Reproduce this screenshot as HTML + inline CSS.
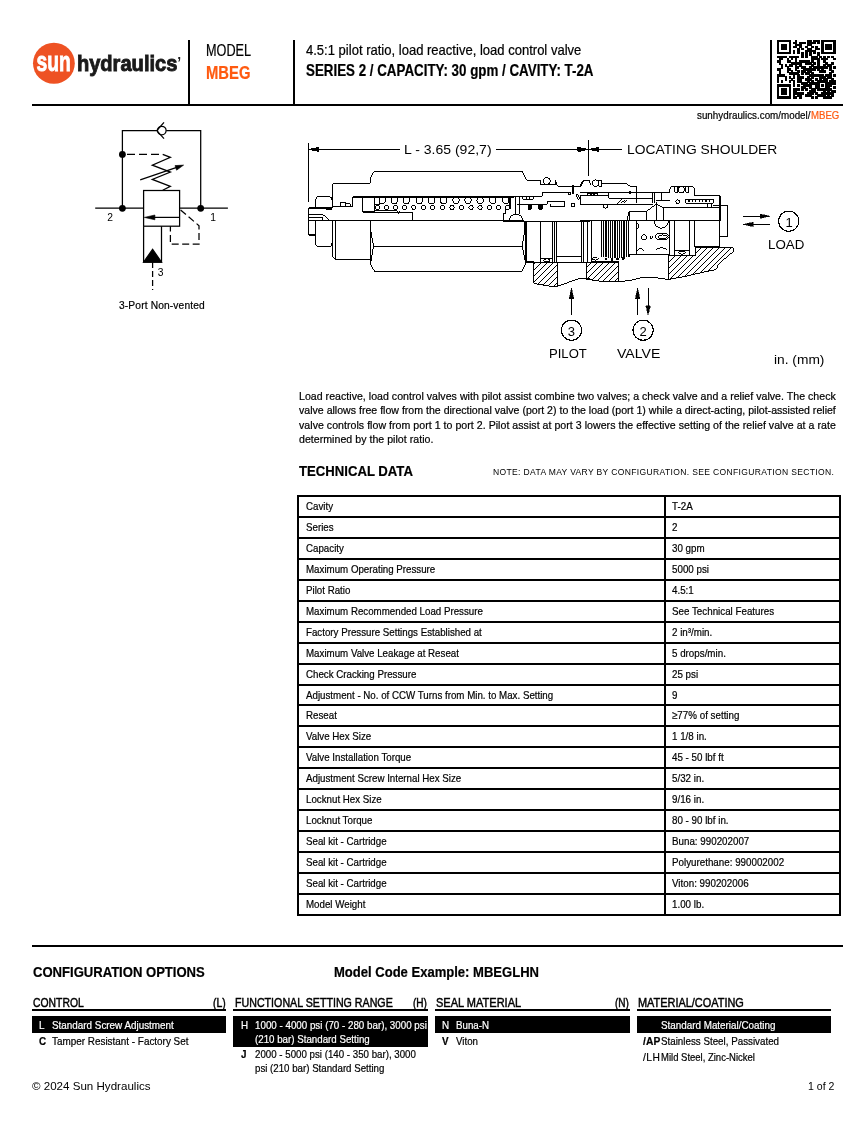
<!DOCTYPE html>
<html lang="en"><head><meta charset="utf-8"><title>MBEG - Sun Hydraulics</title>
<style>
html,body{margin:0;padding:0;background:#fff}
body{width:867px;height:1122px;position:relative;overflow:hidden;font-family:"Liberation Sans",sans-serif;color:#000}
.t{-webkit-text-stroke:0.22px currentColor;position:absolute;white-space:nowrap;line-height:1;transform-origin:0 0;display:block}
.n{-webkit-text-stroke:0}
.h{-webkit-text-stroke:0.45px currentColor}
.b{position:absolute}
svg{position:absolute;overflow:visible}
#pg{position:absolute;left:0;top:0;width:867px;height:1122px;will-change:transform}
</style></head><body><div id="pg">
<svg style="left:0;top:0" width="200" height="100" viewBox="0 0 200 100">
<ellipse cx="53.9" cy="63.3" rx="20.9" ry="20.5" fill="#ee5223"/>
<text x="36.6" y="70.9" font-family="Liberation Sans, sans-serif" font-weight="700" font-size="27.5" fill="#fff" stroke="#fff" stroke-width="0.9" textLength="34.3" lengthAdjust="spacingAndGlyphs">sun</text>
<text x="76.9" y="71" font-family="Liberation Sans, sans-serif" font-weight="700" font-size="22" fill="#1a1a1a" stroke="#1a1a1a" stroke-width="0.9" textLength="100.5" lengthAdjust="spacingAndGlyphs">hydraulics</text>
<text x="177.2" y="67" font-family="Liberation Sans, sans-serif" font-weight="700" font-size="14" fill="#1a1a1a">’</text>
</svg>

<div class="b" style="left:188.00px;top:40.00px;width:2.00px;height:65.00px;background:#000"></div>
<div class="b" style="left:293.00px;top:40.00px;width:2.00px;height:65.00px;background:#000"></div>
<div class="b" style="left:770.00px;top:40.00px;width:2.00px;height:65.00px;background:#000"></div>
<div class="b" style="left:32.00px;top:104.00px;width:811.00px;height:2.00px;background:#000"></div>
<span class="t" style="left:205.80px;top:42.81px;font-size:16px;transform:scaleX(0.7911);">MODEL</span>
<span class="t" style="left:205.80px;top:63.51px;font-size:18.6px;transform:scaleX(0.7957);font-weight:700;color:#ff5a10;">MBEG</span>
<span class="t" style="left:306.40px;top:43.03px;font-size:14.2px;transform:scaleX(0.9187);">4.5:1 pilot ratio, load reactive, load control valve</span>
<span class="t" style="left:306.40px;top:63.20px;font-size:16.6px;transform:scaleX(0.8043);font-weight:700;">SERIES 2 / CAPACITY: 30 gpm / CAVITY: T-2A</span>
<svg style="left:777.4px;top:40.4px" width="60" height="60" viewBox="0 0 60 60"><path fill="#000" shape-rendering="crispEdges" d="M-0.42 -0.42h14.89v2.85h-14.89zM17.64 -0.42h2.85v2.85h-2.85zM29.68 -0.42h4.85v2.85h-4.85zM35.70 -0.42h6.86v2.85h-6.86zM43.73 -0.42h14.89v2.85h-14.89zM-0.42 1.59h2.85v2.85h-2.85zM11.62 1.59h2.85v2.85h-2.85zM15.64 1.59h4.85v2.85h-4.85zM21.66 1.59h6.86v2.85h-6.86zM29.68 1.59h8.87v2.85h-8.87zM39.72 1.59h2.85v2.85h-2.85zM43.73 1.59h2.85v2.85h-2.85zM55.77 1.59h2.85v2.85h-2.85zM-0.42 3.59h2.85v2.85h-2.85zM3.59 3.59h6.86v2.85h-6.86zM11.62 3.59h2.85v2.85h-2.85zM17.64 3.59h6.86v2.85h-6.86zM29.68 3.59h4.85v2.85h-4.85zM43.73 3.59h2.85v2.85h-2.85zM47.75 3.59h6.86v2.85h-6.86zM55.77 3.59h2.85v2.85h-2.85zM-0.42 5.60h2.85v2.85h-2.85zM3.59 5.60h6.86v2.85h-6.86zM11.62 5.60h2.85v2.85h-2.85zM15.64 5.60h4.85v2.85h-4.85zM21.66 5.60h2.85v2.85h-2.85zM27.68 5.60h2.85v2.85h-2.85zM33.70 5.60h2.85v2.85h-2.85zM37.71 5.60h2.85v2.85h-2.85zM43.73 5.60h2.85v2.85h-2.85zM47.75 5.60h6.86v2.85h-6.86zM55.77 5.60h2.85v2.85h-2.85zM-0.42 7.61h2.85v2.85h-2.85zM3.59 7.61h6.86v2.85h-6.86zM11.62 7.61h2.85v2.85h-2.85zM19.65 7.61h2.85v2.85h-2.85zM23.66 7.61h2.85v2.85h-2.85zM29.68 7.61h4.85v2.85h-4.85zM37.71 7.61h4.85v2.85h-4.85zM43.73 7.61h2.85v2.85h-2.85zM47.75 7.61h6.86v2.85h-6.86zM55.77 7.61h2.85v2.85h-2.85zM-0.42 9.61h2.85v2.85h-2.85zM11.62 9.61h2.85v2.85h-2.85zM15.64 9.61h2.85v2.85h-2.85zM19.65 9.61h2.85v2.85h-2.85zM27.68 9.61h10.87v2.85h-10.87zM43.73 9.61h2.85v2.85h-2.85zM55.77 9.61h2.85v2.85h-2.85zM-0.42 11.62h14.89v2.85h-14.89zM15.64 11.62h2.85v2.85h-2.85zM19.65 11.62h2.85v2.85h-2.85zM23.66 11.62h2.85v2.85h-2.85zM27.68 11.62h2.85v2.85h-2.85zM31.69 11.62h2.85v2.85h-2.85zM35.70 11.62h2.85v2.85h-2.85zM39.72 11.62h2.85v2.85h-2.85zM43.73 11.62h14.89v2.85h-14.89zM23.66 13.63h2.85v2.85h-2.85zM27.68 13.63h2.85v2.85h-2.85zM31.69 13.63h2.85v2.85h-2.85zM39.72 13.63h2.85v2.85h-2.85zM-0.42 15.64h10.87v2.85h-10.87zM11.62 15.64h10.87v2.85h-10.87zM23.66 15.64h2.85v2.85h-2.85zM27.68 15.64h2.85v2.85h-2.85zM33.70 15.64h6.86v2.85h-6.86zM41.72 15.64h2.85v2.85h-2.85zM45.74 15.64h2.85v2.85h-2.85zM49.75 15.64h2.85v2.85h-2.85zM53.77 15.64h2.85v2.85h-2.85zM1.59 17.64h4.85v2.85h-4.85zM9.61 17.64h2.85v2.85h-2.85zM13.63 17.64h2.85v2.85h-2.85zM17.64 17.64h2.85v2.85h-2.85zM33.70 17.64h8.87v2.85h-8.87zM43.73 17.64h6.86v2.85h-6.86zM55.77 17.64h2.85v2.85h-2.85zM-0.42 19.65h4.85v2.85h-4.85zM9.61 19.65h4.85v2.85h-4.85zM17.64 19.65h2.85v2.85h-2.85zM21.66 19.65h10.87v2.85h-10.87zM33.70 19.65h2.85v2.85h-2.85zM39.72 19.65h2.85v2.85h-2.85zM45.74 19.65h2.85v2.85h-2.85zM1.59 21.66h2.85v2.85h-2.85zM13.63 21.66h10.87v2.85h-10.87zM27.68 21.66h6.86v2.85h-6.86zM35.70 21.66h2.85v2.85h-2.85zM39.72 21.66h2.85v2.85h-2.85zM47.75 21.66h2.85v2.85h-2.85zM53.77 21.66h2.85v2.85h-2.85zM3.59 23.66h2.85v2.85h-2.85zM7.61 23.66h2.85v2.85h-2.85zM11.62 23.66h4.85v2.85h-4.85zM17.64 23.66h2.85v2.85h-2.85zM21.66 23.66h2.85v2.85h-2.85zM33.70 23.66h2.85v2.85h-2.85zM39.72 23.66h2.85v2.85h-2.85zM45.74 23.66h2.85v2.85h-2.85zM49.75 23.66h4.85v2.85h-4.85zM3.59 25.67h2.85v2.85h-2.85zM9.61 25.67h2.85v2.85h-2.85zM17.64 25.67h4.85v2.85h-4.85zM23.66 25.67h4.85v2.85h-4.85zM31.69 25.67h2.85v2.85h-2.85zM35.70 25.67h14.89v2.85h-14.89zM51.76 25.67h2.85v2.85h-2.85zM55.77 25.67h2.85v2.85h-2.85zM-0.42 27.68h4.85v2.85h-4.85zM9.61 27.68h4.85v2.85h-4.85zM17.64 27.68h2.85v2.85h-2.85zM25.67 27.68h12.88v2.85h-12.88zM39.72 27.68h2.85v2.85h-2.85zM43.73 27.68h2.85v2.85h-2.85zM51.76 27.68h2.85v2.85h-2.85zM1.59 29.68h2.85v2.85h-2.85zM9.61 29.68h2.85v2.85h-2.85zM13.63 29.68h2.85v2.85h-2.85zM19.65 29.68h2.85v2.85h-2.85zM23.66 29.68h4.85v2.85h-4.85zM29.68 29.68h4.85v2.85h-4.85zM41.72 29.68h6.86v2.85h-6.86zM53.77 29.68h2.85v2.85h-2.85zM1.59 31.69h2.85v2.85h-2.85zM11.62 31.69h10.87v2.85h-10.87zM23.66 31.69h2.85v2.85h-2.85zM27.68 31.69h4.85v2.85h-4.85zM33.70 31.69h2.85v2.85h-2.85zM51.76 31.69h2.85v2.85h-2.85zM-0.42 33.70h8.87v2.85h-8.87zM15.64 33.70h2.85v2.85h-2.85zM19.65 33.70h2.85v2.85h-2.85zM31.69 33.70h14.89v2.85h-14.89zM47.75 33.70h6.86v2.85h-6.86zM55.77 33.70h2.85v2.85h-2.85zM-0.42 35.70h2.85v2.85h-2.85zM7.61 35.70h2.85v2.85h-2.85zM11.62 35.70h2.85v2.85h-2.85zM15.64 35.70h2.85v2.85h-2.85zM19.65 35.70h6.86v2.85h-6.86zM29.68 35.70h2.85v2.85h-2.85zM33.70 35.70h2.85v2.85h-2.85zM41.72 35.70h6.86v2.85h-6.86zM49.75 35.70h4.85v2.85h-4.85zM-0.42 37.71h2.85v2.85h-2.85zM7.61 37.71h2.85v2.85h-2.85zM13.63 37.71h2.85v2.85h-2.85zM19.65 37.71h4.85v2.85h-4.85zM27.68 37.71h6.86v2.85h-6.86zM37.71 37.71h2.85v2.85h-2.85zM41.72 37.71h2.85v2.85h-2.85zM45.74 37.71h4.85v2.85h-4.85zM53.77 37.71h2.85v2.85h-2.85zM-0.42 39.72h2.85v2.85h-2.85zM3.59 39.72h2.85v2.85h-2.85zM11.62 39.72h2.85v2.85h-2.85zM15.64 39.72h2.85v2.85h-2.85zM19.65 39.72h4.85v2.85h-4.85zM29.68 39.72h2.85v2.85h-2.85zM33.70 39.72h2.85v2.85h-2.85zM39.72 39.72h10.87v2.85h-10.87zM51.76 39.72h6.86v2.85h-6.86zM15.64 41.72h2.85v2.85h-2.85zM23.66 41.72h6.86v2.85h-6.86zM31.69 41.72h10.87v2.85h-10.87zM47.75 41.72h10.87v2.85h-10.87zM-0.42 43.73h14.89v2.85h-14.89zM15.64 43.73h2.85v2.85h-2.85zM19.65 43.73h2.85v2.85h-2.85zM25.67 43.73h8.87v2.85h-8.87zM37.71 43.73h4.85v2.85h-4.85zM43.73 43.73h2.85v2.85h-2.85zM47.75 43.73h6.86v2.85h-6.86zM-0.42 45.74h2.85v2.85h-2.85zM11.62 45.74h2.85v2.85h-2.85zM23.66 45.74h4.85v2.85h-4.85zM31.69 45.74h2.85v2.85h-2.85zM37.71 45.74h4.85v2.85h-4.85zM47.75 45.74h4.85v2.85h-4.85zM55.77 45.74h2.85v2.85h-2.85zM-0.42 47.75h2.85v2.85h-2.85zM3.59 47.75h6.86v2.85h-6.86zM11.62 47.75h2.85v2.85h-2.85zM15.64 47.75h6.86v2.85h-6.86zM23.66 47.75h2.85v2.85h-2.85zM27.68 47.75h2.85v2.85h-2.85zM33.70 47.75h4.85v2.85h-4.85zM39.72 47.75h14.89v2.85h-14.89zM-0.42 49.75h2.85v2.85h-2.85zM3.59 49.75h6.86v2.85h-6.86zM11.62 49.75h2.85v2.85h-2.85zM15.64 49.75h4.85v2.85h-4.85zM31.69 49.75h6.86v2.85h-6.86zM45.74 49.75h2.85v2.85h-2.85zM49.75 49.75h2.85v2.85h-2.85zM53.77 49.75h4.85v2.85h-4.85zM-0.42 51.76h2.85v2.85h-2.85zM3.59 51.76h6.86v2.85h-6.86zM11.62 51.76h2.85v2.85h-2.85zM15.64 51.76h10.87v2.85h-10.87zM29.68 51.76h6.86v2.85h-6.86zM37.71 51.76h2.85v2.85h-2.85zM43.73 51.76h12.88v2.85h-12.88zM-0.42 53.77h2.85v2.85h-2.85zM11.62 53.77h2.85v2.85h-2.85zM15.64 53.77h2.85v2.85h-2.85zM19.65 53.77h4.85v2.85h-4.85zM27.68 53.77h6.86v2.85h-6.86zM39.72 53.77h8.87v2.85h-8.87zM49.75 53.77h2.85v2.85h-2.85zM53.77 53.77h2.85v2.85h-2.85zM-0.42 55.77h14.89v2.85h-14.89zM15.64 55.77h4.85v2.85h-4.85zM21.66 55.77h2.85v2.85h-2.85zM33.70 55.77h2.85v2.85h-2.85zM37.71 55.77h2.85v2.85h-2.85zM45.74 55.77h8.87v2.85h-8.87z"/></svg>
<span class="t" style="left:696.70px;top:109.98px;font-size:11.3px;transform:scaleX(0.8690);">sunhydraulics.com/model/</span>
<span class="t" style="left:810.87px;top:109.98px;font-size:11.3px;transform:scaleX(0.8513);color:#ff5a10;">MBEG</span>
<svg style="left:0;top:0" width="300" height="330" viewBox="0 0 300 330" fill="none" stroke="#000" stroke-width="1.25">
<path d="M122.4 208.4V130.6H157.3M166.2 130.6H200.7V208.4"/>
<circle cx="161.8" cy="130.6" r="4.3"/>
<path d="M164 122.3L156.8 130.6L164 138.6"/>
<path d="M95.2 208.2H143.6M179.6 208.2H227.9"/>
<circle cx="122.4" cy="154.4" r="3.4" fill="#000" stroke="none"/>
<circle cx="122.4" cy="208.3" r="3.4" fill="#000" stroke="none"/>
<circle cx="200.7" cy="208.3" r="3.4" fill="#000" stroke="none"/>
<path d="M127 154.4H162.7" stroke-dasharray="8 4"/>
<path d="M162.7 154.4L170.4 157.4L152.3 165.2L170.4 172.1L152.3 179.4L170.4 186.3L162.7 190.3"/>
<path d="M140.2 179.9L176 167.7"/>
<path d="M183.6 165.1L175 165.6L176.6 170.2Z" fill="#000" stroke-width="0.6"/>
<rect x="143.6" y="190.5" width="36" height="35.7"/>
<path d="M179.6 217.4H153"/>
<path d="M144.3 217.4L154.9 215L154.9 219.8Z" fill="#000" stroke-width="0.6"/>
<path d="M143.6 226.2V262H161.5V226.2"/>
<path d="M143.6 262L152.6 249.4L161.5 262Z" fill="#000"/>
<path d="M152.6 262V290" stroke-dasharray="6 3"/>
<path d="M180.6 210L199 225.7V244.2H170.4V226.2" stroke-dasharray="7 3.5"/>
</svg>

<span class="t n" style="left:107.30px;top:213.43px;font-size:10.3px;">2</span>
<span class="t n" style="left:210.30px;top:213.43px;font-size:10.3px;">1</span>
<span class="t n" style="left:157.80px;top:268.43px;font-size:10.3px;">3</span>
<span class="t" style="left:118.50px;top:299.54px;font-size:11px;transform:scaleX(0.9300);letter-spacing:0.143px;">3-Port Non-vented</span>
<svg style="left:0;top:0" width="867" height="380" viewBox="0 0 867 380" fill="none" stroke="#000" stroke-width="1" shape-rendering="crispEdges">
<defs>
</defs>
<!-- A: upper-left -->
<g transform="translate(300 135) scale(0.17301)" stroke-width="5.78">
<path d="M48 45V390"/>
<path d="M50 83H580"/>
<path d="M52 83L108 72V95Z" fill="#000"/>
<path d="M185 420V300Q185 280 205 278H405V258Q410 232 430 210H867"/>
<path d="M90 420V375Q90 355 110 355H165Q185 355 185 375"/>
<path d="M50 420H185M150 428H185" stroke-width="11.5"/>
<path d="M50 420V578"/>
<path d="M50 462H130Q158 465 165 497M50 475H130V497M55 497H130"/>
<path d="M50 497H867"/>
<path d="M305 357H867" stroke-width="11.5"/>
<path d="M185 415H305V357"/>
<path d="M232 390H262V415H232ZM262 398H290V415"/>
<path d="M362 360V445H432V360M432 360H462V400H432"/>
<path d="M362 449H650" stroke-width="9"/><path d="M650 446V497"/>
<path d="M432 437H560L570 458L580 437"/>
<g id="coilsA">
<ellipse cx="475" cy="376" rx="19" ry="22"/><ellipse cx="545" cy="376" rx="19" ry="22"/><ellipse cx="615" cy="376" rx="19" ry="22"/><ellipse cx="690" cy="376" rx="19" ry="22"/><ellipse cx="760" cy="376" rx="19" ry="22"/><ellipse cx="830" cy="376" rx="19" ry="22"/>
<circle cx="448" cy="419" r="12.5"/><circle cx="500" cy="419" r="12.5"/><circle cx="552" cy="419" r="12.5"/><circle cx="604" cy="419" r="12.5"/><circle cx="658" cy="419" r="12.5"/><circle cx="712" cy="419" r="12.5"/><circle cx="765" cy="419" r="12.5"/><circle cx="822" cy="419" r="12.5"/>
</g>
</g>
<!-- B: lower-left -->
<g transform="translate(300 195) scale(0.17301)" stroke-width="5.78">
<path d="M90 152V280Q90 298 108 298H170Q185 298 185 280V152"/>
<path d="M50 232H95" stroke-width="11.5"/>
<path d="M190 152V355L205 372H408M205 152V372"/>
<path d="M408 152V400L430 440H867M408 200L425 297L408 395M425 297H867"/>
</g>
<!-- C: upper-middle -->
<g transform="translate(440 135) scale(0.17301)" stroke-width="5.78">
<path d="M325 83H790M858 30V235"/>
<path d="M850 83L795 72V95Z" fill="#000"/>
<path d="M0 210H475L500 262H580V288H665V262L680 295H765M775 295H815L830 265H867"/>
<circle cx="617" cy="266" r="20"/>
<path d="M770 290V340" stroke-width="12"/>
<path d="M0 357H430" stroke-width="11.5"/>
<ellipse cx="20" cy="376" rx="19" ry="22"/><ellipse cx="92" cy="376" rx="19" ry="22"/><ellipse cx="162" cy="376" rx="19" ry="22"/><ellipse cx="232" cy="376" rx="19" ry="22"/><ellipse cx="305" cy="376" rx="19" ry="22"/><ellipse cx="380" cy="376" rx="19" ry="22"/>
<circle cx="15" cy="419" r="12.5"/><circle cx="70" cy="419" r="12.5"/><circle cx="125" cy="419" r="12.5"/><circle cx="180" cy="419" r="12.5"/><circle cx="232" cy="419" r="12.5"/><circle cx="285" cy="419" r="12.5"/><circle cx="338" cy="419" r="12.5"/><circle cx="390" cy="419" r="12.5"/>
<path d="M400 357V430H380V455H365V497M410 357V430"/>
<path d="M435 357V455M460 357V455"/>
<path d="M400 497A40 40 0 0 1 480 497"/>
<path d="M365 497H485" stroke-width="11.5"/>
<path d="M430 355H590V335H760"/>
<path d="M478 358H540V372H478ZM498 358V372M518 358V372"/>
<path d="M445 400H620V385H720V415H640V400"/>
<path d="M510 405H528V430H510ZM570 405H590V430H570Z" fill="#000"/>
<path d="M745 335H757V345H745ZM760 395H780V412H760ZM785 340L800 375M795 340L808 370"/>
<path d="M810 350H867M810 350V400H867"/>
<path d="M55 497H365"/>

</g>
<!-- D: lower-middle -->
<g transform="translate(440 195) scale(0.17301)" stroke-width="5.78">
<path d="M0 297H475M0 440H475M475 297L490 200V152M475 297L495 395L475 440"/>
<path d="M499 152V392" stroke-width="11.5"/>
<path d="M580 152V390M648 152V390M660 152V390M672 152V390M820 152V390M832 152V390"/>
<path d="M485 152H867"/>
<path d="M497 390H545" stroke-width="11.5"/>
<path d="M545 390H867M580 365H648M672 355H820"/>
<ellipse cx="618" cy="378" rx="18" ry="9"/>
<clipPath id="hc0"><path d="M542 392H680V528Q640 532 542 510Z"/></clipPath><path d="M542 392H680V528Q640 532 542 510Z"/><path clip-path="url(#hc0)" d="M406 534L550 390M441 534L585 390M476 534L620 390M511 534L655 390M546 534L690 390M581 534L725 390M616 534L760 390M651 534L795 390"/>
<path d="M680 526Q730 512 770 494T867 480"/>
</g>
<!-- E: upper-right -->
<g transform="translate(580 135) scale(0.17301)" stroke-width="5.78">
<path d="M48 35V235M0 83H48M50 83H245"/>
<path d="M50 83L108 72V95Z" fill="#000"/><path d="M46 83L-8 72V95Z" fill="#000"/>
<path d="M0 297L15 265H50L65 290M125 280H265L290 297H325V330"/>
<circle cx="90" cy="278" r="19"/><path d="M107 262H125V297H107Z"/>
<path d="M0 330H520M165 335V365H325M5 350V400H230M5 350H165"/>
<path d="M45 336H60V348H45ZM65 336H80V348H65ZM85 336H100V348H85Z"/>
<circle cx="290" cy="331" r="6"/>
<path d="M215 395L240 375M235 395L260 375M255 390L270 378"/>
<circle cx="148" cy="411" r="12"/>
<path d="M325 365H420M230 400H420M325 330V395M420 330V392M430 330V392M470 330V380H520M440 380H470"/>
<path d="M520 330V312Q520 300 535 298H650Q660 300 660 312V350H810V497"/>
<circle cx="586" cy="316" r="18"/><path d="M547 298V332H565V298M610 298V332H628V298"/>
<path d="M610 372H770V395H610Z"/>
<path d="M625 384h8M645 384h8M665 384h8M685 384h8M705 384h8M725 384h8M745 384h8" stroke-width="11.5"/>
<circle cx="565" cy="386" r="11"/>
<path d="M735 395H760V420H735ZM770 405H855V578"/>
<path d="M285 440H385V497M285 440V497M270 497L285 440M385 440L440 400L485 420H810M485 420V497M440 385V497"/>
<path d="M0 497H810"/>
</g>
<!-- F: lower-right -->
<g transform="translate(580 195) scale(0.17301)" stroke-width="5.78">
<path d="M10 152V385M45 152V385M65 152V385"/>
<path d="M125 152V360M150 152V360M176 152V365M202 152V365M228 152V365M254 152V365M280 152V360" stroke-width="8"/>
<path d="M138 152V360M163 152V365" stroke-width="6"/><path d="M189 152V365M215 152V365M241 152V365M267 152V360" stroke-width="7"/>
<path d="M325 152V345M520 152V345M545 152V345M635 152V345M660 152V300M808 0V300"/>
<path d="M327 163A18 18 0 0 1 327 197M430 152A40 40 0 0 0 510 152"/>
<ellipse cx="475" cy="240" rx="40" ry="20"/><ellipse cx="478" cy="242" rx="27" ry="11"/>
<circle cx="370" cy="245" r="15"/><path d="M405 245L413 235L421 245L413 255Z"/>
<path d="M330 322Q350 295 368 322M440 315Q470 295 505 315"/>
<path d="M545 320H635M660 300H810M855 60V240M810 240H855"/>
<ellipse cx="590" cy="333" rx="20" ry="9"/>
<path d="M285 345H520M285 345V360M0 390H35M70 385H225"/>
<ellipse cx="88" cy="368" rx="17" ry="8"/><circle cx="150" cy="370" r="6" fill="#000"/><circle cx="185" cy="375" r="6" fill="#000"/><circle cx="218" cy="370" r="6" fill="#000"/><circle cx="250" cy="368" r="6" fill="#000"/>
<clipPath id="hc1"><path d="M35 390H225V500Q130 508 35 486Z"/></clipPath><path d="M35 390H225V500Q130 508 35 486Z"/><path clip-path="url(#hc1)" d="M-89 510L33 388M-54 510L68 388M-19 510L103 388M16 510L138 388M51 510L173 388M86 510L208 388M121 510L243 388M156 510L278 388M191 510L313 388M226 510L348 388"/>
<path d="M225 500Q300 496 350 478Q430 470 508 488"/>
<clipPath id="hc2"><path d="M510 350H665V305H885V328Q840 365 800 400Q795 428 780 432Q700 448 620 468Q560 480 510 488Z"/></clipPath><path d="M510 350H665V305H885V328Q840 365 800 400Q795 428 780 432Q700 448 620 468Q560 480 510 488Z"/><path clip-path="url(#hc2)" d="M341 490L528 303M376 490L563 303M411 490L598 303M446 490L633 303M481 490L668 303M516 490L703 303M551 490L738 303M586 490L773 303M621 490L808 303M656 490L843 303M691 490L878 303M726 490L913 303M761 490L948 303M796 490L983 303M831 490L1018 303M866 490L1053 303"/>
</g>
<!-- labels graphics -->
<g stroke-width="1.1">
<circle cx="571.5" cy="330.2" r="10.1"/><circle cx="643.1" cy="330.2" r="10.1"/><circle cx="788.7" cy="221.2" r="10.1"/>
<path d="M571.5 290V314.7M637.6 290V314.7M648.1 288.3V313M743 216.2H768M745 224.4H769.8"/>
<g fill="#000" stroke-width="0.5">
<path d="M571.5 288L569.2 298.5H573.8Z"/><path d="M637.6 288L635.3 298.5H639.9Z"/><path d="M648.1 315L645.8 305.5H650.4Z"/>
<path d="M770 216.2L760 214V218.4Z"/><path d="M743 224.4L753 222.2V226.6Z"/>
</g>
</g>
</svg>

<span class="t n" style="left:403.80px;top:143.15px;font-size:13px;transform:scaleX(1.0790);">L - 3.65 (92,7)</span>
<span class="t n" style="left:626.70px;top:143.15px;font-size:13px;transform:scaleX(1.0636);">LOCATING SHOULDER</span>
<span class="t n" style="left:567.80px;top:324.65px;font-size:13px;">3</span>
<span class="t n" style="left:639.40px;top:324.65px;font-size:13px;">2</span>
<span class="t n" style="left:785.60px;top:215.65px;font-size:13px;">1</span>
<span class="t n" style="left:548.50px;top:346.95px;font-size:13px;transform:scaleX(1.0061);">PILOT</span>
<span class="t n" style="left:617.10px;top:346.95px;font-size:13px;transform:scaleX(1.0832);">VALVE</span>
<span class="t n" style="left:767.70px;top:238.25px;font-size:13px;transform:scaleX(1.0247);">LOAD</span>
<span class="t n" style="left:773.50px;top:352.95px;font-size:13px;transform:scaleX(1.0578);">in. (mm)</span>
<span class="t" style="left:298.70px;top:390.60px;font-size:11.4px;transform:scaleX(0.9300);letter-spacing:0.022px;">Load reactive, load control valves with pilot assist combine two valves; a check valve and a relief valve. The check</span>
<span class="t" style="left:298.70px;top:405.30px;font-size:11.4px;transform:scaleX(0.9287);">valve allows free flow from the directional valve (port 2) to the load (port 1) while a direct-acting, pilot-assisted relief</span>
<span class="t" style="left:298.70px;top:420.00px;font-size:11.4px;transform:scaleX(0.9300);letter-spacing:0.031px;">valve controls flow from port 1 to port 2. Pilot assist at port 3 lowers the effective setting of the relief valve at a rate</span>
<span class="t" style="left:298.70px;top:434.20px;font-size:11.4px;transform:scaleX(0.9300);letter-spacing:0.027px;">determined by the pilot ratio.</span>
<span class="t" style="left:298.90px;top:464.32px;font-size:14.8px;transform:scaleX(0.8882);font-weight:700;">TECHNICAL DATA</span>
<span class="t n" style="left:492.80px;top:468.06px;font-size:9.2px;transform:scaleX(0.9300);letter-spacing:0.369px;">NOTE: DATA MAY VARY BY CONFIGURATION. SEE CONFIGURATION SECTION.</span>
<div class="b" style="left:297.00px;top:495.00px;width:544.00px;height:2.00px;background:#000"></div>
<div class="b" style="left:297.00px;top:516.00px;width:544.00px;height:2.00px;background:#000"></div>
<div class="b" style="left:297.00px;top:537.00px;width:544.00px;height:2.00px;background:#000"></div>
<div class="b" style="left:297.00px;top:558.00px;width:544.00px;height:2.00px;background:#000"></div>
<div class="b" style="left:297.00px;top:579.00px;width:544.00px;height:2.00px;background:#000"></div>
<div class="b" style="left:297.00px;top:600.00px;width:544.00px;height:2.00px;background:#000"></div>
<div class="b" style="left:297.00px;top:621.00px;width:544.00px;height:2.00px;background:#000"></div>
<div class="b" style="left:297.00px;top:642.00px;width:544.00px;height:2.00px;background:#000"></div>
<div class="b" style="left:297.00px;top:663.00px;width:544.00px;height:2.00px;background:#000"></div>
<div class="b" style="left:297.00px;top:684.00px;width:544.00px;height:2.00px;background:#000"></div>
<div class="b" style="left:297.00px;top:704.00px;width:544.00px;height:2.00px;background:#000"></div>
<div class="b" style="left:297.00px;top:725.00px;width:544.00px;height:2.00px;background:#000"></div>
<div class="b" style="left:297.00px;top:746.00px;width:544.00px;height:2.00px;background:#000"></div>
<div class="b" style="left:297.00px;top:767.00px;width:544.00px;height:2.00px;background:#000"></div>
<div class="b" style="left:297.00px;top:788.00px;width:544.00px;height:2.00px;background:#000"></div>
<div class="b" style="left:297.00px;top:809.00px;width:544.00px;height:2.00px;background:#000"></div>
<div class="b" style="left:297.00px;top:830.00px;width:544.00px;height:2.00px;background:#000"></div>
<div class="b" style="left:297.00px;top:851.00px;width:544.00px;height:2.00px;background:#000"></div>
<div class="b" style="left:297.00px;top:872.00px;width:544.00px;height:2.00px;background:#000"></div>
<div class="b" style="left:297.00px;top:893.00px;width:544.00px;height:2.00px;background:#000"></div>
<div class="b" style="left:297.00px;top:914.00px;width:544.00px;height:2.00px;background:#000"></div>
<div class="b" style="left:297.00px;top:495.00px;width:2.00px;height:421.00px;background:#000"></div>
<div class="b" style="left:839.00px;top:495.00px;width:2.00px;height:421.00px;background:#000"></div>
<div class="b" style="left:664.00px;top:495.00px;width:2.00px;height:421.00px;background:#000"></div>
<span class="t" style="left:306.40px;top:500.97px;font-size:11.2px;transform:scaleX(0.8700);">Cavity</span>
<span class="t" style="left:672.20px;top:500.97px;font-size:11.2px;transform:scaleX(0.8750);">T-2A</span>
<span class="t" style="left:306.40px;top:521.97px;font-size:11.2px;transform:scaleX(0.8700);">Series</span>
<span class="t" style="left:672.20px;top:521.97px;font-size:11.2px;transform:scaleX(0.8750);">2</span>
<span class="t" style="left:306.40px;top:542.97px;font-size:11.2px;transform:scaleX(0.8700);">Capacity</span>
<span class="t" style="left:672.20px;top:542.97px;font-size:11.2px;transform:scaleX(0.8750);">30 gpm</span>
<span class="t" style="left:306.40px;top:563.97px;font-size:11.2px;transform:scaleX(0.8700);">Maximum Operating Pressure</span>
<span class="t" style="left:672.20px;top:563.97px;font-size:11.2px;transform:scaleX(0.8750);">5000 psi</span>
<span class="t" style="left:306.40px;top:584.97px;font-size:11.2px;transform:scaleX(0.8700);">Pilot Ratio</span>
<span class="t" style="left:672.20px;top:584.97px;font-size:11.2px;transform:scaleX(0.8750);">4.5:1</span>
<span class="t" style="left:306.40px;top:605.97px;font-size:11.2px;transform:scaleX(0.8700);">Maximum Recommended Load Pressure</span>
<span class="t" style="left:672.20px;top:605.97px;font-size:11.2px;transform:scaleX(0.8750);">See Technical Features</span>
<span class="t" style="left:306.40px;top:626.97px;font-size:11.2px;transform:scaleX(0.8700);">Factory Pressure Settings Established at</span>
<span class="t" style="left:672.20px;top:626.97px;font-size:11.2px;transform:scaleX(0.8750);">2 in³/min.</span>
<span class="t" style="left:306.40px;top:647.97px;font-size:11.2px;transform:scaleX(0.8700);">Maximum Valve Leakage at Reseat</span>
<span class="t" style="left:672.20px;top:647.97px;font-size:11.2px;transform:scaleX(0.8750);">5 drops/min.</span>
<span class="t" style="left:306.40px;top:668.97px;font-size:11.2px;transform:scaleX(0.8700);">Check Cracking Pressure</span>
<span class="t" style="left:672.20px;top:668.97px;font-size:11.2px;transform:scaleX(0.8750);">25 psi</span>
<span class="t" style="left:306.40px;top:689.97px;font-size:11.2px;transform:scaleX(0.8700);">Adjustment - No. of CCW Turns from Min. to Max. Setting</span>
<span class="t" style="left:672.20px;top:689.97px;font-size:11.2px;transform:scaleX(0.8750);">9</span>
<span class="t" style="left:306.40px;top:709.97px;font-size:11.2px;transform:scaleX(0.8700);">Reseat</span>
<span class="t" style="left:672.20px;top:709.97px;font-size:11.2px;transform:scaleX(0.8750);">≥77% of setting</span>
<span class="t" style="left:306.40px;top:730.97px;font-size:11.2px;transform:scaleX(0.8700);">Valve Hex Size</span>
<span class="t" style="left:672.20px;top:730.97px;font-size:11.2px;transform:scaleX(0.8750);">1 1/8 in.</span>
<span class="t" style="left:306.40px;top:751.97px;font-size:11.2px;transform:scaleX(0.8700);">Valve Installation Torque</span>
<span class="t" style="left:672.20px;top:751.97px;font-size:11.2px;transform:scaleX(0.8750);">45 - 50 lbf ft</span>
<span class="t" style="left:306.40px;top:772.97px;font-size:11.2px;transform:scaleX(0.8700);">Adjustment Screw Internal Hex Size</span>
<span class="t" style="left:672.20px;top:772.97px;font-size:11.2px;transform:scaleX(0.8750);">5/32 in.</span>
<span class="t" style="left:306.40px;top:793.97px;font-size:11.2px;transform:scaleX(0.8700);">Locknut Hex Size</span>
<span class="t" style="left:672.20px;top:793.97px;font-size:11.2px;transform:scaleX(0.8750);">9/16 in.</span>
<span class="t" style="left:306.40px;top:814.97px;font-size:11.2px;transform:scaleX(0.8700);">Locknut Torque</span>
<span class="t" style="left:672.20px;top:814.97px;font-size:11.2px;transform:scaleX(0.8750);">80 - 90 lbf in.</span>
<span class="t" style="left:306.40px;top:835.97px;font-size:11.2px;transform:scaleX(0.8700);">Seal kit - Cartridge</span>
<span class="t" style="left:672.20px;top:835.97px;font-size:11.2px;transform:scaleX(0.8750);">Buna: 990202007</span>
<span class="t" style="left:306.40px;top:856.97px;font-size:11.2px;transform:scaleX(0.8700);">Seal kit - Cartridge</span>
<span class="t" style="left:672.20px;top:856.97px;font-size:11.2px;transform:scaleX(0.8750);">Polyurethane: 990002002</span>
<span class="t" style="left:306.40px;top:877.97px;font-size:11.2px;transform:scaleX(0.8700);">Seal kit - Cartridge</span>
<span class="t" style="left:672.20px;top:877.97px;font-size:11.2px;transform:scaleX(0.8750);">Viton: 990202006</span>
<span class="t" style="left:306.40px;top:898.97px;font-size:11.2px;transform:scaleX(0.8700);">Model Weight</span>
<span class="t" style="left:672.20px;top:898.97px;font-size:11.2px;transform:scaleX(0.8750);">1.00 lb.</span>
<div class="b" style="left:32.00px;top:945.00px;width:811.00px;height:2.00px;background:#000"></div>
<span class="t" style="left:32.60px;top:964.58px;font-size:14.5px;transform:scaleX(0.9010);font-weight:700;">CONFIGURATION OPTIONS</span>
<span class="t" style="left:334.00px;top:964.58px;font-size:14.5px;transform:scaleX(0.8991);font-weight:700;">Model Code Example: MBEGLHN</span>
<span class="t h" style="left:32.60px;top:996.65px;font-size:12.4px;transform:scaleX(0.8378);">CONTROL</span>
<span class="t h" style="left:212.80px;top:996.65px;font-size:12.4px;transform:scaleX(0.8395);">(L)</span>
<div class="b" style="left:32.00px;top:1009.00px;width:194.00px;height:2.00px;background:#000"></div>
<span class="t h" style="left:234.60px;top:996.65px;font-size:12.4px;transform:scaleX(0.8604);">FUNCTIONAL SETTING RANGE</span>
<span class="t h" style="left:413.30px;top:996.65px;font-size:12.4px;transform:scaleX(0.8123);">(H)</span>
<div class="b" style="left:233.00px;top:1009.00px;width:195.00px;height:2.00px;background:#000"></div>
<span class="t h" style="left:435.70px;top:996.65px;font-size:12.4px;transform:scaleX(0.8894);">SEAL MATERIAL</span>
<span class="t h" style="left:614.80px;top:996.65px;font-size:12.4px;transform:scaleX(0.8123);">(N)</span>
<div class="b" style="left:435.00px;top:1009.00px;width:195.00px;height:2.00px;background:#000"></div>
<span class="t h" style="left:637.60px;top:996.65px;font-size:12.4px;transform:scaleX(0.8818);">MATERIAL/COATING</span>
<div class="b" style="left:637.00px;top:1009.00px;width:194.00px;height:2.00px;background:#000"></div>
<div class="b" style="left:32.00px;top:1016.40px;width:194.00px;height:16.20px;background:#000"></div>
<div class="b" style="left:233.10px;top:1016.40px;width:194.90px;height:30.20px;background:#000"></div>
<div class="b" style="left:435.20px;top:1016.40px;width:194.60px;height:16.20px;background:#000"></div>
<div class="b" style="left:636.90px;top:1016.40px;width:194.10px;height:16.20px;background:#000"></div>
<span class="t" style="left:39.00px;top:1019.64px;font-size:11px;transform:scaleX(0.8950);color:#fff;">L</span>
<span class="t" style="left:52.20px;top:1019.64px;font-size:11px;transform:scaleX(0.8973);color:#fff;">Standard Screw Adjustment</span>
<span class="t" style="left:39.00px;top:1035.74px;font-size:11px;transform:scaleX(0.8950);font-weight:700;">C</span>
<span class="t" style="left:52.20px;top:1035.74px;font-size:11px;transform:scaleX(0.9002);">Tamper Resistant - Factory Set</span>
<span class="t" style="left:240.70px;top:1019.64px;font-size:11px;transform:scaleX(0.8950);color:#fff;">H</span>
<span class="t" style="left:255.00px;top:1019.64px;font-size:11px;transform:scaleX(0.8892);color:#fff;">1000 - 4000 psi (70 - 280 bar), 3000 psi</span>
<span class="t" style="left:255.00px;top:1033.94px;font-size:11px;transform:scaleX(0.8848);color:#fff;">(210 bar) Standard Setting</span>
<span class="t" style="left:240.70px;top:1048.94px;font-size:11px;transform:scaleX(0.8950);font-weight:700;">J</span>
<span class="t" style="left:255.00px;top:1048.94px;font-size:11px;transform:scaleX(0.8830);">2000 - 5000 psi (140 - 350 bar), 3000</span>
<span class="t" style="left:255.00px;top:1063.24px;font-size:11px;transform:scaleX(0.8818);">psi (210 bar) Standard Setting</span>
<span class="t" style="left:441.50px;top:1019.64px;font-size:11px;transform:scaleX(0.8950);color:#fff;">N</span>
<span class="t" style="left:455.50px;top:1019.64px;font-size:11px;transform:scaleX(0.8850);color:#fff;">Buna-N</span>
<span class="t" style="left:441.50px;top:1035.74px;font-size:11px;transform:scaleX(0.8950);font-weight:700;">V</span>
<span class="t" style="left:455.50px;top:1035.74px;font-size:11px;transform:scaleX(0.8850);">Viton</span>
<span class="t" style="left:661.00px;top:1019.64px;font-size:11px;transform:scaleX(0.8950);color:#fff;">Standard Material/Coating</span>
<span class="t" style="left:642.70px;top:1035.74px;font-size:11px;transform:scaleX(0.9300);letter-spacing:0.144px;font-weight:700;">/AP</span>
<span class="t" style="left:661.00px;top:1035.74px;font-size:11px;transform:scaleX(0.8895);">Stainless Steel, Passivated</span>
<span class="t" style="left:642.70px;top:1051.74px;font-size:11px;transform:scaleX(0.9300);letter-spacing:0.480px;">/LH</span>
<span class="t" style="left:661.00px;top:1051.74px;font-size:11px;transform:scaleX(0.8631);">Mild Steel, Zinc-Nickel</span>
<span class="t n" style="left:32.10px;top:1081.02px;font-size:11.5px;transform:scaleX(1.0063);">© 2024 Sun Hydraulics</span>
<span class="t n" style="left:808.40px;top:1081.02px;font-size:11.5px;transform:scaleX(0.9183);">1 of 2</span>
</div></body></html>
